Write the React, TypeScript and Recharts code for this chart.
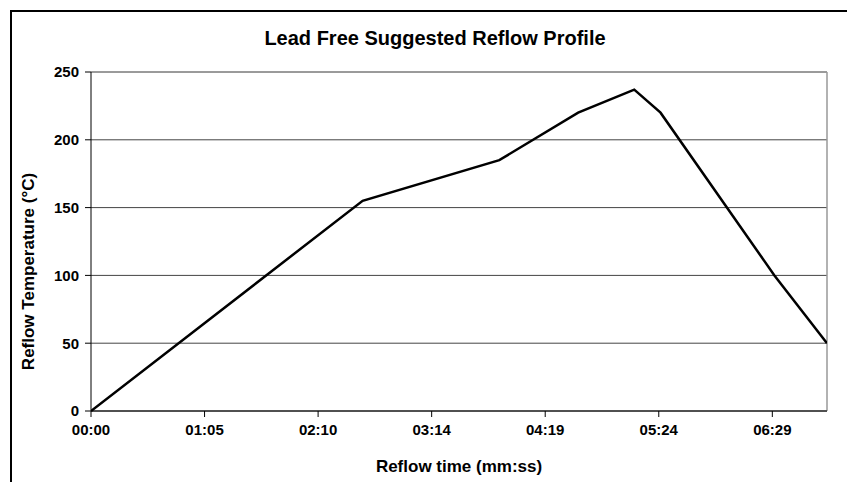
import { LineChart, Line, XAxis, YAxis, CartesianGrid, ReferenceLine, Label } from 'recharts';

// Reflow profile points (seconds, °C)
const TIMES = [0, 155, 233, 278, 310, 325, 390, 420];
const TEMPS = [0, 155, 185, 220, 237, 220, 100, 50];

// Excel-style time axis: major unit 0.00075 day = 64.8 s
const X_TICKS = [0, 64.8, 129.6, 194.4, 259.2, 324, 388.8];
const Y_TICKS = [0, 50, 100, 150, 200, 250];

const FONT = 'Arial, "Liberation Sans", Helvetica, sans-serif';

const data = TIMES.map((t, i) => ({ t, temp: TEMPS[i] }));

const fmtTime = (s: number) => {
    const total = Math.round(s);
    const mm = Math.floor(total / 60);
    const ss = total % 60;
    return `${String(mm).padStart(2, '0')}:${String(ss).padStart(2, '0')}`;
};

const tickStyle = { fill: '#000', fontSize: 15, fontWeight: 'bold', fontFamily: FONT };

export default function App() {
    return (
        <div style={{ position: 'absolute', left: 0, top: 0, width: 847, height: 482, background: '#fff', overflow: 'hidden' }}>
            {/* chart frame, runs off the right and bottom edges */}
            <div style={{ position: 'absolute', left: 10, top: 10, width: 900, height: 500, borderTop: '2px solid #000', borderLeft: '2px solid #000' }} />
            <div style={{ position: 'absolute', left: 0, top: 27, width: 870, textAlign: 'center', fontFamily: FONT, fontWeight: 'bold', fontSize: 20, color: '#000' }}>
                Lead Free Suggested Reflow Profile
            </div>
            <div style={{ position: 'absolute', left: 0, top: 0 }}>
                <LineChart width={847} height={482} data={data} margin={{ top: 72, right: 20, bottom: 0, left: 0 }}>
                    <CartesianGrid vertical={false} stroke="#444" strokeWidth={1} />
                    <XAxis
                        dataKey="t"
                        type="number"
                        domain={[0, 420]}
                        ticks={X_TICKS}
                        tickFormatter={fmtTime}
                        height={71}
                        tickSize={6}
                        tickMargin={7}
                        stroke="#000"
                        tick={tickStyle}
                        allowDataOverflow
                    >
                        <Label value="Reflow time (mm:ss)" position="insideBottom" offset={10} style={{ fill: '#000', fontSize: 17, fontWeight: 'bold', fontFamily: FONT }} />
                    </XAxis>
                    <YAxis
                        type="number"
                        domain={[0, 250]}
                        ticks={Y_TICKS}
                        width={91}
                        tickSize={6}
                        tickMargin={6}
                        stroke="#000"
                        tick={tickStyle}
                    >
                        <Label value="Reflow Temperature (°C)" angle={-90} position="insideLeft" offset={28} dy={30} style={{ fill: '#000', fontSize: 17, fontWeight: 'bold', fontFamily: FONT, textAnchor: 'middle' }} />
                    </YAxis>
                    <ReferenceLine y={250} stroke="#999" strokeWidth={1.5} />
                    <ReferenceLine x={420} stroke="#999" strokeWidth={1.5} />
                    <Line
                        type="linear"
                        dataKey="temp"
                        stroke="#000"
                        strokeWidth={2.5}
                        dot={false}
                        isAnimationActive={false}
                    />
                </LineChart>
            </div>
        </div>
    );
}
